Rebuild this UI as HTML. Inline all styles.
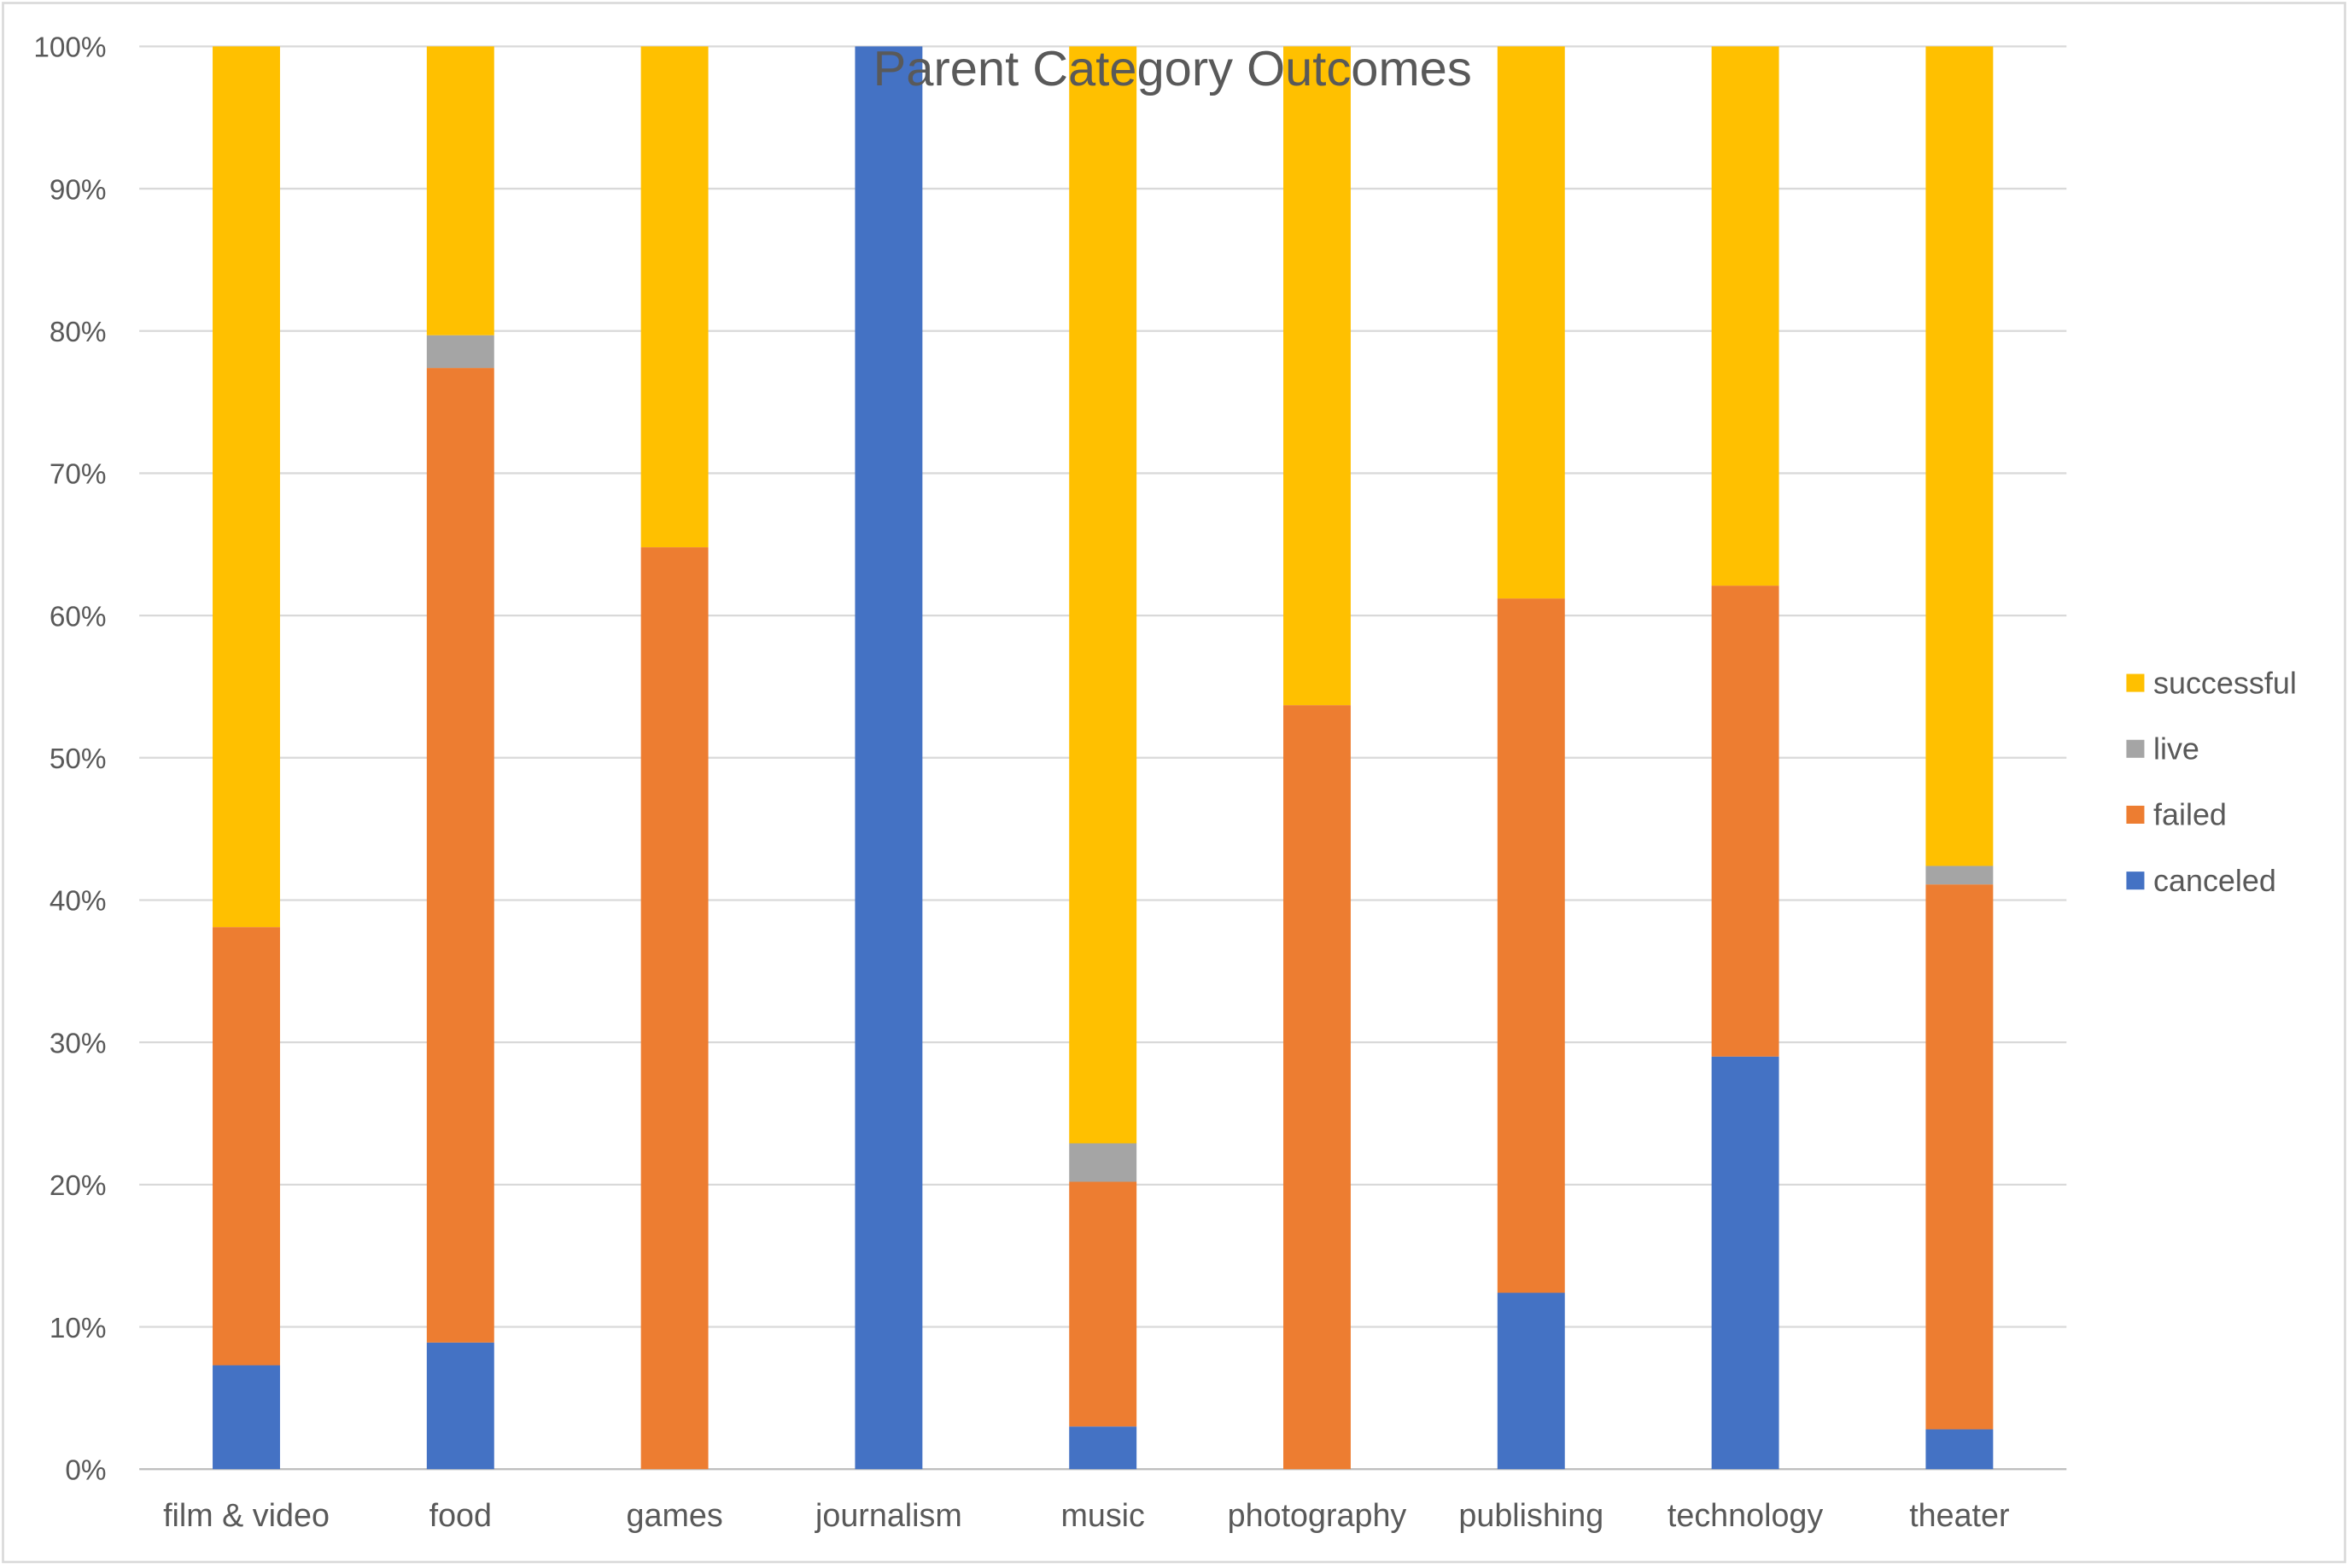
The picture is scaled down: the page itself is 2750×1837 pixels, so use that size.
<!DOCTYPE html>
<html><head><meta charset="utf-8"><style>
html,body{margin:0;padding:0;background:#fff;}
svg{display:block;font-family:"Liberation Sans",sans-serif;}
</style></head><body>
<svg id="chart" width="2750" height="1837" viewBox="0 0 1568 1047" preserveAspectRatio="none">
<rect x="2" y="2" width="1564" height="1041" fill="#fff" stroke="#d9d9d9" stroke-width="1.5"/>
<g id="grid"></g><g id="bars"></g><g id="labels"></g>
<text x="783" y="57" text-anchor="middle" font-size="33" fill="#595959">Parent Category Outcomes</text>
<g id="legend"></g>
</svg>
<script>
const categories=["film & video","food","games","journalism","music","photography","publishing","technology","theater"];
const canceled=[7.3,8.9,0,100,3.0,0,12.4,29.0,2.8];
const failed=[30.8,68.5,64.8,0,17.2,53.7,48.8,33.1,38.3];
const live=[0,2.3,0,0,2.7,0,0,0,1.3];
const successful=[61.9,20.3,35.2,0,77.1,46.3,38.8,37.9,57.6];
const yTicks=[0,10,20,30,40,50,60,70,80,90,100];
const seriesNames=["canceled","failed","live","successful"];
const seriesColors=["#4472c4","#ed7d31","#a5a5a5","#ffc000"];
const NS="http://www.w3.org/2000/svg";
const x0=93,x1=1380,yBase=981,yTop=31;
const y=v=>yBase-(v/100)*(yBase-yTop);
const step=(x1-x0)/categories.length;
const xc=i=>x0+step*(i+0.5);
const bw=45;
function mk(tag,attrs,parent){const e=document.createElementNS(NS,tag);for(const k in attrs)e.setAttribute(k,attrs[k]);parent.appendChild(e);return e;}
const grid=document.getElementById('grid'),labels=document.getElementById('labels'),bars=document.getElementById('bars'),legend=document.getElementById('legend');
yTicks.forEach(t=>{
  const l=mk('line',{x1:x0,x2:x1,y1:y(t),y2:y(t),stroke:t===0?'#bfbfbf':'#d9d9d9','stroke-width':1.3},grid);
  
  
  const tx=mk('text',{x:71,y:y(t)+7,'text-anchor':'end','font-size':19,fill:'#595959'},labels);
  tx.textContent=t+'%';
  
  
});
const all=[canceled,failed,live,successful];
categories.forEach((c,i)=>{
  let cum=0;
  all.forEach((s,k)=>{
    const v=s[i];
    if(v>0){
      const r=mk('rect',{x:xc(i)-bw/2,y:y(cum+v),width:bw,height:y(cum)-y(cum+v),fill:seriesColors[k]},bars);
      
      
    }
    cum+=v;
  });
  const tx=mk('text',{x:xc(i),y:1019,'text-anchor':'middle','font-size':21.5,fill:'#595959'},labels);
  tx.textContent=c;
  
  
});
[3,2,1,0].forEach((k,j)=>{
  const yy=456+j*44;
  const r=mk('rect',{x:1420,y:yy-6,width:12,height:12,fill:seriesColors[k]},legend);
  
  
  const t=mk('text',{x:1438,y:yy+7,'font-size':20.5,fill:'#595959'},legend);
  t.textContent=seriesNames[k];
  
  
});
</script>
</body></html>
